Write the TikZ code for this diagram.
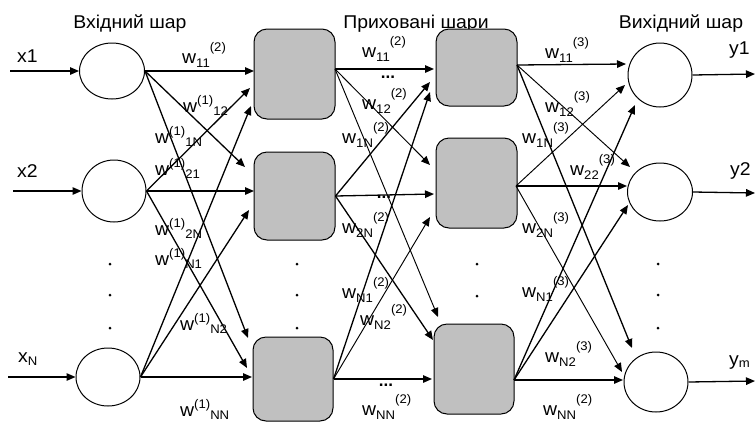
\documentclass[tikz,border=0pt]{standalone}
\usepackage{fontspec}
\setmainfont{Liberation Sans}
\usetikzlibrary{arrows.meta,shapes.geometric}
\definecolor{boxgray}{HTML}{C0C0C0}

% text is set slightly widened
\newcommand\sw[1]{\scalebox{1.05}[1]{#1}}
\newcommand\idx[1]{{\fontsize{12.5}{13}\selectfont #1}}
% weight label: subscript first, then superscript
\newcommand\wbs[2]{\sw{w\raisebox{-4.5pt}{\idx{#1}}\raisebox{12pt}{\idx{#2}}}}
% weight label: superscript first, then subscript
\newcommand\wsb[2]{\sw{w\raisebox{8pt}{\idx{#1}}\raisebox{-3.5pt}{\idx{#2}}}}

\tikzset{
  neuron/.style={draw, ellipse, inner sep=0pt, line width=1pt},
  hidbox/.style={draw, fill=boxgray, rounded corners=13pt, inner sep=0pt, line width=1pt},
  link/.style={line width=1.3pt, -{Triangle[length=9pt,width=7.5pt]}},
  thinlink/.style={line width=0.95pt, -{Triangle[length=9pt,width=7.5pt]}},
  lbl/.style={inner sep=0pt, anchor=base west, font=\fontsize{18.5}{19}\selectfont},
  head/.style={inner sep=0pt, anchor=base, font=\fontsize{18.5}{19}\selectfont},
  dotsl/.style={inner sep=0pt, font=\fontsize{17}{17}\selectfont\bfseries},
}

\begin{document}
\begin{tikzpicture}[x=1pt, y=-1pt]
\useasboundingbox (0,0) rectangle (755,424);

% headings
\node[head] (hin)  at (130,28) {\sw{Вхідний шар}};
\node[head] (hhid) at (416,28) {\sw{Приховані шари}};
\node[head] (hout) at (681,28) {\sw{Вихідний шар}};

% input layer
\node[neuron, minimum width=65pt, minimum height=56pt] (i1) at (112,71) {};
\node[neuron, minimum width=64pt, minimum height=62pt] (i2) at (114,191) {};
\node[neuron, minimum width=64pt, minimum height=58pt] (i3) at (108,377) {};

% first hidden layer
\node[hidbox, minimum width=81pt, minimum height=90pt] (a1) at (294.5,74) {};
\node[hidbox, minimum width=81pt, minimum height=88pt] (a2) at (294.5,196) {};
\node[hidbox, minimum width=80pt, minimum height=84pt] (a3) at (293,379) {};

% second hidden layer
\node[hidbox, minimum width=81pt, minimum height=77pt] (b1) at (476.5,67.5) {};
\node[hidbox, minimum width=81pt, minimum height=90pt] (b2) at (476.5,183) {};
\node[hidbox, minimum width=80pt, minimum height=90pt] (b3) at (474,369) {};

% output layer
\node[neuron, minimum width=64pt, minimum height=64pt] (o1) at (660,75) {};
\node[neuron, minimum width=65pt, minimum height=58pt] (o2) at (660,192) {};
\node[neuron, minimum width=64pt, minimum height=60pt] (o3) at (656,382) {};

% input and output ends
\coordinate (x1s) at (10,71);
\coordinate (x2s) at (13,191);
\coordinate (x3s) at (8,377);
\coordinate (y1e) at (755,74);
\coordinate (y2e) at (755,193);
\coordinate (y3e) at (755,381);
\draw[link] (x1s) -- (i1.west);
\draw[link] (x2s) -- (i2.west);
\draw[link] (x3s) -- (i3.west);
\draw[link] (o1.east) -- (y1e);
\draw[link] (o2.east) -- (y2e);
\draw[link] (o3.east) -- (y3e);

% inputs -> first hidden layer
\coordinate (p11) at (254,71);
\coordinate (p12) at (245,167);
\coordinate (p13) at (248,338);
\coordinate (p21) at (250,88);
\coordinate (p22) at (254,191);
\coordinate (p23) at (247,368);
\coordinate (p31) at (251,106);
\coordinate (p32) at (249,210);
\coordinate (p33) at (252,377);
\draw[link] (i1.east) -- (p11);
\draw[link] (i1.east) -- (p12);
\draw[link] (i1.east) -- (p13);
\draw[link] (i2.east) -- (p21);
\draw[link] (i2.east) -- (p22);
\draw[link] (i2.east) -- (p23);
\draw[link] (i3.east) -- (p31);
\draw[link] (i3.east) -- (p32);
\draw[link] (i3.east) -- (p33);

% first -> second hidden layer
\coordinate (a1o) at (335,69);
\coordinate (q11) at (434,69);
\coordinate (q12) at (430,165);
\coordinate (q13) at (438,317);
\coordinate (q21) at (430,82);
\coordinate (q22) at (434,194);
\coordinate (q23) at (433,340);
\coordinate (q31) at (430,92);
\coordinate (q32) at (430,217);
\coordinate (q33) at (432,379);
\draw[link] (a1o) -- (q11);
\draw[thinlink] (a1o) -- (q12);
\draw[thinlink] (a1o) -- (q13);
\draw[link] (a2.east) -- (q21);
\draw[link] (a2.east) -- (q22);
\draw[link] (a2.east) -- (q23);
\draw[link] (a3.east) -- (q31);
\draw[thinlink] (a3.east) -- (q32);
\draw[link] (a3.east) -- (q33);

% second hidden layer -> outputs
\coordinate (b1o) at (517,65);
\coordinate (b2o) at (516,186);
\coordinate (b3o) at (514,380);
\coordinate (r11) at (626,64);
\coordinate (r12) at (630,167);
\coordinate (r13) at (632,348);
\coordinate (r21) at (625,85);
\coordinate (r22) at (627,186);
\coordinate (r23) at (622,372);
\coordinate (r31) at (635,105);
\coordinate (r32) at (628,205);
\coordinate (r33) at (623,380);
\draw[link] (b1o) -- (r11);
\draw[thinlink] (b1o) -- (r12);
\draw[link] (b1o) -- (r13);
\draw[thinlink] (b2o) -- (r21);
\draw[link] (b2o) -- (r22);
\draw[thinlink] (b2o) -- (r23);
\draw[link] (b3o) -- (r31);
\draw[link] (b3o) -- (r32);
\draw[link] (b3o) -- (r33);

% signal names
\node[lbl] (lx1) at (17,62) {\sw{x1}};
\node[lbl] (lx2) at (17,177) {\sw{x2}};
\node[lbl] (lx3) at (18,362) {\sw{x\raisebox{-3pt}{\idx{N}}}};
\node[lbl] (ly1) at (729,54) {\sw{y1}};
\node[lbl] (ly2) at (730,175) {\sw{y2}};
\node[lbl] (ly3) at (729,365) {\sw{y\raisebox{-2pt}{\idx{m}}}};

% weights, first layer
\node[lbl] (w1a) at (182,63)  {\wbs{11}{(2)}};
\node[lbl] (w1b) at (183,112) {\wsb{(1)}{12}};
\node[lbl] (w1c) at (155,143) {\wsb{(1)}{1N}};
\node[lbl] (w1d) at (155,175) {\wsb{(1)}{21}};
\node[lbl] (w1e) at (155,235) {\wsb{(1)}{2N}};
\node[lbl] (w1f) at (155,265) {\wsb{(1)}{N1}};
\node[lbl] (w1g) at (180,330) {\wsb{(1)}{N2}};
\node[lbl] (w1h) at (180,416) {\wsb{(1)}{NN}};

% weights, second layer
\node[lbl] (w2a) at (362,57)  {\wbs{11}{(2)}};
\node[lbl] (w2b) at (362,109) {\wbs{12}{(2)}};
\node[lbl] (w2c) at (342,143) {\wbs{1N}{(2)}};
\node[lbl] (w2d) at (342,233) {\wbs{2N}{(2)}};
\node[lbl] (w2e) at (342,298) {\wbs{N1}{(2)}};
\node[lbl] (w2f) at (360,325) {\wbs{N2}{(2)}};
\node[lbl] (w2g) at (362,415) {\wbs{NN}{(2)}};

% weights, third layer
\node[lbl] (w3a) at (545,58)  {\wbs{11}{(3)}};
\node[lbl] (w3b) at (545,112) {\wbs{12}{(3)}};
\node[lbl] (w3c) at (522,143) {\wbs{1N}{(3)}};
\node[lbl] (w3d) at (570,175) {\wbs{22}{(3)}};
\node[lbl] (w3e) at (522,233) {\wbs{2N}{(3)}};
\node[lbl] (w3f) at (522,297) {\wbs{N1}{(3)}};
\node[lbl] (w3g) at (545,362) {\wbs{N2}{(3)}};
\node[lbl] (w3h) at (543,415) {\wbs{NN}{(2)}};

% ellipses between links
\node[dotsl] (e1) at (388,77)  {...};
\node[dotsl] (e2) at (384,197) {...};
\node[dotsl] (e3) at (386,385) {...};

% vertical dots between neurons
\foreach \yy in {264,295,328} {
  \fill (110,\yy) circle (1.5pt);
  \fill (297,\yy) circle (1.5pt);
  \fill (658,\yy) circle (1.5pt);
}
\foreach \yy in {264,296} {
  \fill (477,\yy) circle (1.5pt);
}
\end{tikzpicture}
\end{document}
